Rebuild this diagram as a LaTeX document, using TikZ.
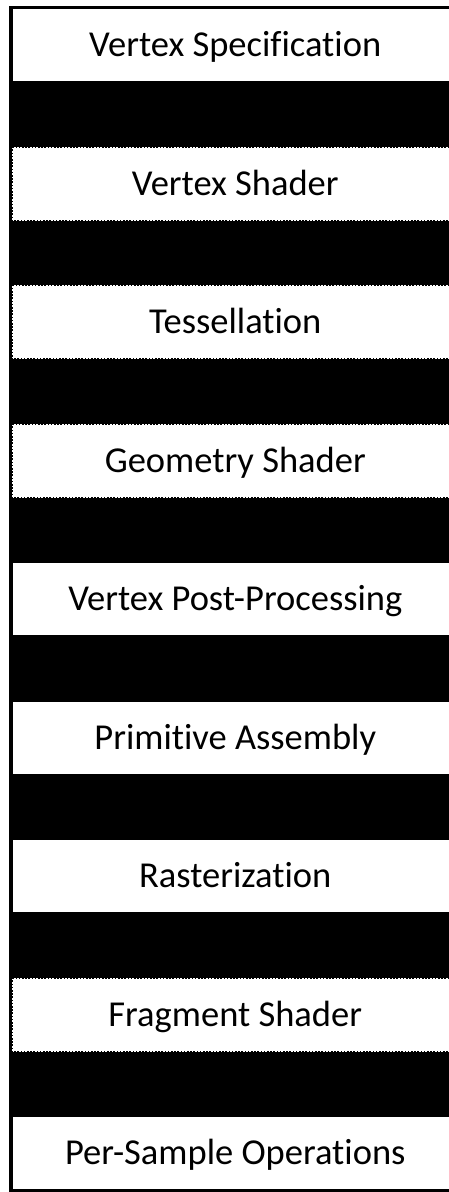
\documentclass[tikz,border=0pt]{standalone}
\usepackage{fontspec}
\setmainfont{Carlito}[RawFeature=-liga]
\begin{document}
\begin{tikzpicture}[x=1pt,y=-1pt,
                    stage/.style={rectangle,fill=white,inner sep=0pt,
                                  minimum width=445.5pt,minimum height=72pt,
                                  text height=23.5pt,text depth=0pt,
                                  font=\fontsize{36.5}{40}\selectfont},
                    shader/.style={stage,draw=white,line width=2pt,
                                   dash pattern=on 1.6pt off 1.6pt}]
 \useasboundingbox (0,0) rectangle (449,1192);
 \fill (9,6) rectangle (449,1191.5);
 \node[stage]  (spec)   at (235.25,45)     {Vertex Specification};
 \node[shader] (vshad)  at (235.25,183.5)  {Vertex Shader};
 \node[shader] (tess)   at (235.25,322)    {Tessellation};
 \node[shader] (gshad)  at (235.25,460.5)  {Geometry Shader};
 \node[stage]  (post)   at (235.25,599)    {Vertex Post-Processing};
 \node[stage]  (prim)   at (235.25,737.5)  {Primitive Assembly};
 \node[stage]  (raster) at (235.25,876)    {Rasterization};
 \node[shader] (fshad)  at (235.25,1014.5) {Fragment Shader};
 \node[stage]  (sample) at (235.25,1153)   {Per-Sample Operations};
\end{tikzpicture}
\end{document}
